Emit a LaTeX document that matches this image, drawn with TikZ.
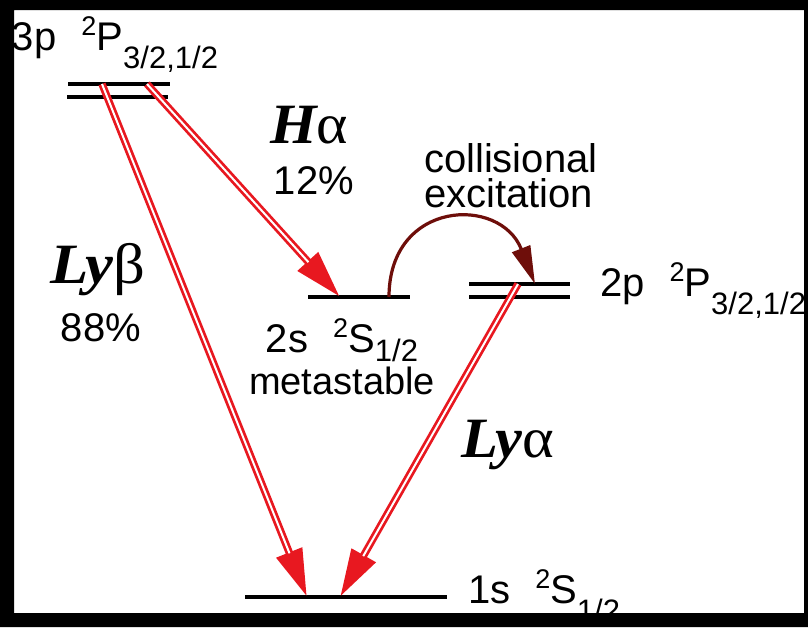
\documentclass[tikz,border=0pt]{standalone}
\usepackage{fontspec}
\setmainfont{Liberation Sans}
\newfontfamily\serifface{Liberation Serif}
\usetikzlibrary{arrows.meta}
\definecolor{lred}{RGB}{232,24,32}
\definecolor{maroonc}{RGB}{110,14,10}
\newcommand\mainsz{\fontsize{40}{40}\selectfont}
\newcommand\supsz{\fontsize{27}{27}\selectfont}
\newcommand\subsz{\fontsize{31}{31}\selectfont}
\newcommand\termlab[4][18pt]{\mainsz #2\hspace{25pt}\raisebox{15pt}{\supsz 2}#3\raisebox{-#1}{\subsz #4}}
\newcommand\serifbig{\serifface\fontsize{57}{57}\selectfont}
\begin{document}
\begin{tikzpicture}[x=1pt,y=-1pt,
  level/.style={line width=4pt, line cap=butt},
  lbl/.style={inner sep=0pt, outer sep=0pt, font=\mainsz},
  trans/.style={lred, line width=7.5pt, -{Triangle[length=48pt,width=26pt]}},
  innerline/.style={white, line width=2pt, shorten >=47pt},
  collide/.style={maroonc, line width=3.2pt, -{Triangle[length=38pt,width=19pt]}}
]
\useasboundingbox (0,0) rectangle (808,627);
\fill[white] (0,0) rectangle (808,627);

% energy levels
\draw[level] (68,84) -- (170,84);
\draw[level] (67,97) -- (168,97);
\draw[level] (308,297) -- (410,297);
\draw[level] (469,284) -- (570,284);
\draw[level] (469,297) -- (570,297);
\draw[level] (245,597) -- (447,597);

% connector end points on the levels
\coordinate (p3a) at (102,84);
\coordinate (p3b) at (147,84);
\coordinate (s2) at (340,297);
\coordinate (s2r) at (389,297);
\coordinate (p2) at (518,284);
\coordinate (p2l) at (535,284);
\coordinate (s1a) at (307,597);
\coordinate (s1b) at (340,597);

% transitions
\draw[trans] (p3a) -- (s1a);
\draw[innerline] (p3a) -- (s1a);
\draw[trans] (p3b) -- (s2);
\draw[innerline] (p3b) -- (s2);
\draw[trans] (p2) -- (s1b);
\draw[innerline] (p2) -- (s1b);
\draw[collide] (s2r) .. controls (389,200) and (500,195) .. (p2l);

% labels
\node[lbl, anchor=base west] (l3p) at (12,50) {\termlab{3p}{P}{3/2,1/2}};
\node[lbl, anchor=base west] (l2p) at (600,296) {\termlab{2p}{P}{3/2,1/2}};
\node[lbl, anchor=base west] (l1s) at (468,603) {\termlab{1s}{S}{1/2}};
\node[lbl, anchor=base, align=center, font=\fontsize{40}{42}\selectfont] (l2s) at (342,394)
  {\termlab[9pt]{2s}{S}{1/2}\\{\fontsize{38}{42}\selectfont metastable}};
\node[lbl, anchor=base west] (ha) at (270,143) {\scalebox{1.05}[1]{{\serifbig\bfseries\itshape H}{\serifbig α}}};
\node[lbl, anchor=base] (p12) at (314,194) {12\%};
\node[lbl, anchor=base west, align=left, font=\fontsize{40}{35}\selectfont] (coll) at (424,207) {collisional\\excitation};
\node[lbl, anchor=base west] (lyb) at (50,283) {\scalebox{1.1}[1]{{\serifbig\bfseries\itshape Ly}{\serifbig β}}};
\node[lbl, anchor=base] (p88) at (101,341) {88\%};
\node[lbl, anchor=base west] (lya) at (461,457) {\scalebox{1.06}[1]{{\serifbig\bfseries\itshape Ly}{\serifbig α}}};

% black frame
\fill[black, even odd rule] (0,0) rectangle (808,627) (14,10) rectangle (804,613);
\end{tikzpicture}
\end{document}
